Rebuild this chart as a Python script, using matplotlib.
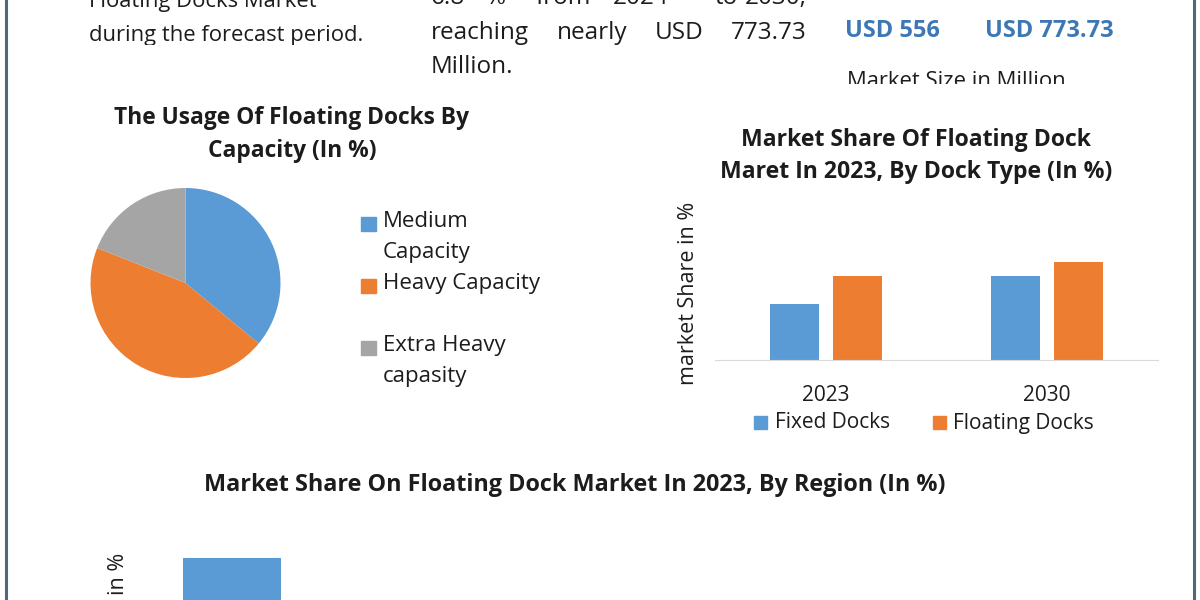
import matplotlib
matplotlib.use("Agg")
import matplotlib.pyplot as plt
from matplotlib.patches import Rectangle
from matplotlib.transforms import Bbox, TransformedBbox

plt.rcParams['font.family'] = ['Open Sans', 'DejaVu Sans']

BLUE = '#5b9bd5'
ORANGE = '#ed7d31'
GRAY = '#a5a5a5'
HEAD_BLUE = '#3d78b4'
INK = '#1c1c1c'

# usage by capacity (pie)
capacity_labels = ["Medium\nCapacity", "Heavy Capacity", "Extra Heavy\ncapasity"]
capacity_share = [36, 45, 19]

# market share by dock type (bars)
years = ["2023", "2030"]
dock_types = ["Fixed Docks", "Floating Docks"]
fixed_docks = [20, 30]
floating_docks = [30, 35]

# market share by region (only the first bar is in view)
regions = ["North America"]
region_share = [35.5]

market_size = ["USD 556", "USD 773.73"]

W, H = 1200, 600
fig = plt.figure(figsize=(12, 6), dpi=100)
fig.patch.set_facecolor('white')


def px_rect(x0, y0, x1, y1):
    return [x0 / W, 1 - y1 / H, (x1 - x0) / W, (y1 - y0) / H]


base = fig.add_axes([0, 0, 1, 1])
base.set_xlim(0, W)
base.set_ylim(H, 0)
base.axis('off')


def clip_px(x0, y0, x1, y1):
    return TransformedBbox(Bbox([[x0, y0], [x1, y1]]), base.transData)


# frame lines on both sides
base.plot([6, 6], [0, H], color='#4f687c', lw=2.2)
base.plot([1194, 1194], [0, H], color='#4f687c', lw=2.2)

# ---- header text (cut off at top) ----
for y, line in [(7, "Floating Docks Market"), (41, "during the forecast period.")]:
    t = base.text(89, y, line, fontsize=15.8, color=INK, va='baseline')
    t.set_clip_box(clip_px(0, 0, 400, 45))
    t.set_clip_on(True)

# justified paragraph: last word of a full line is pushed to the right edge
middle_lines = [
    (4, [(431, "6.8"), (486, "%"), (536, "from"), (613, "2024"), (715, "to"), (807, "2030,")]),
    (39, [(431, "reaching"), (557, "nearly"), (655, "USD"), (807, "773.73")]),
    (73, [(431, "Million.")]),
]
for y, words in middle_lines:
    for j, (x, w) in enumerate(words):
        ha = 'right' if (j == len(words) - 1 and len(words) > 1) else 'left'
        base.text(x, y, w, fontsize=17.5, color=INK, va='baseline', ha=ha)

for x, s in zip([845, 985], market_size):
    base.text(x, 37, s, fontsize=17, fontweight='bold', color=HEAD_BLUE, va='baseline')
t = base.text(847, 87, "Market Size in Million", fontsize=15.8, color=INK, va='baseline')
t.set_clip_box(clip_px(830, 0, 1190, 84))
t.set_clip_on(True)

# ---- pie ----
base.text(292, 118, "The Usage Of Floating Docks By", fontsize=16.4, fontweight='bold',
          color=INK, ha='center', va='center')
base.text(292, 151, "Capacity (In %)", fontsize=16.4, fontweight='bold',
          color=INK, ha='center', va='center')

pie_colors = [BLUE, ORANGE, GRAY]
ax_pie = fig.add_axes(px_rect(90.5, 188, 280.5, 378))
ax_pie.pie(capacity_share, colors=pie_colors, startangle=90, counterclock=False,
           wedgeprops=dict(linewidth=0))
ax_pie.set_xlim(-1, 1)
ax_pie.set_ylim(-1, 1)

for i, (lab, c) in enumerate(zip(capacity_labels, pie_colors)):
    y0 = 223 + 62 * i
    base.add_patch(Rectangle((361, y0 - 6), 15, 14, color=c))
    base.text(383, y0 - 12, lab, fontsize=16, color=INK, va='top', ha='left',
              linespacing=1.62)

# ---- dock type bars ----
base.text(916, 140, "Market Share Of Floating Dock", fontsize=16.6, fontweight='bold',
          color=INK, ha='center', va='center')
base.text(916, 172, "Maret In 2023, By Dock Type (In %)", fontsize=16.6, fontweight='bold',
          color=INK, ha='center', va='center')

ax_bar = fig.add_axes(px_rect(715, 200, 1158, 360))
xs = range(len(years))
ax_bar.bar([x - 0.142 for x in xs], fixed_docks, width=0.22, color=BLUE)
ax_bar.bar([x + 0.142 for x in xs], floating_docks, width=0.22, color=ORANGE)
ax_bar.set_xlim(-0.5, len(years) - 0.5)
ax_bar.set_ylim(0, 57)
ax_bar.set_xticks(list(xs))
ax_bar.set_xticklabels(years, fontsize=15, color=INK)
ax_bar.tick_params(axis='x', length=0, pad=18)
ax_bar.set_yticks([])
for s in ['top', 'right', 'left']:
    ax_bar.spines[s].set_visible(False)
ax_bar.spines['bottom'].set_color('#d9d9d9')
ax_bar.patch.set_alpha(0)
base.text(688, 293, "market Share in %", fontsize=15.5, color=INK, rotation=90,
          ha='center', va='center')

for (sx, tx), lab, c in zip([(754, 775), (933, 953)], dock_types, [BLUE, ORANGE]):
    base.add_patch(Rectangle((sx, 416), 13, 13, color=c))
    base.text(tx, 423, lab, fontsize=15, color=INK, va='center')

# ---- region bars ----
base.text(575, 485, "Market Share On Floating Dock Market In 2023, By Region (In %)",
          fontsize=16.8, fontweight='bold', color=INK, ha='center', va='center')

ax_reg = fig.add_axes(px_rect(130, 540, 1150, 700))
ax_reg.bar(range(len(regions)), region_share, width=0.48, color=BLUE)
ax_reg.set_xlim(-0.5, 4.5)
ax_reg.set_ylim(0, 40)
ax_reg.axis('off')
base.text(119, 553, "market Share in %", fontsize=15.5, color=INK, rotation=90,
          ha='center', va='top')

fig.savefig("out.png", dpi=100, facecolor='white')
